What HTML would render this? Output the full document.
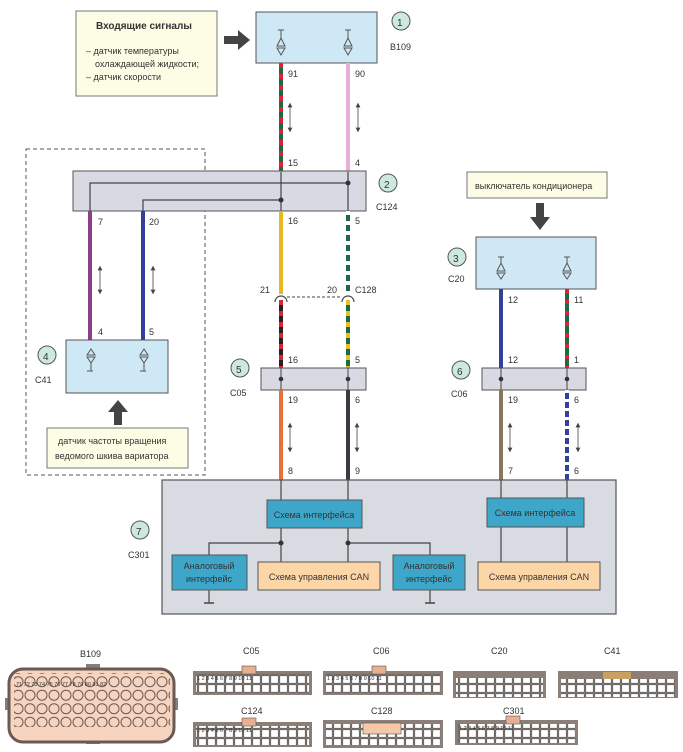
<!DOCTYPE html>
<html><head><meta charset="utf-8"><style>
body{margin:0;background:#fff;}
svg{display:block;font-family:"Liberation Sans",sans-serif;}
.t{font-size:10px;fill:#333;}
.s{font-size:9px;fill:#333;}
.p{font-size:5.5px;fill:#333;}
</style></head><body>
<svg width="683" height="752" viewBox="0 0 683 752" xmlns="http://www.w3.org/2000/svg">
<defs>
<pattern id="cell" width="9" height="9" patternUnits="userSpaceOnUse"><rect x="0.8" y="0.8" width="7.4" height="7.4" fill="#fff" stroke="#555" stroke-width="0.6"/></pattern>
<pattern id="bub" width="12" height="13.5" patternUnits="userSpaceOnUse"><circle cx="6" cy="6.7" r="5" fill="#f7d4c0" stroke="#6a5a55" stroke-width="1"/></pattern>
<marker id="ah" markerWidth="6" markerHeight="6" refX="3" refY="3" orient="auto-start-reverse"><path d="M0,0 L6,3 L0,6 z" fill="#444"/></marker>
</defs>
<rect width="683" height="752" fill="#fff"/>

<rect x="76" y="11" width="141" height="85" fill="#fdfde6" stroke="#777" stroke-width="1"/>
<text x="96" y="29" class="t" font-weight="bold" fill="#555">Входящие сигналы</text>
<text x="86" y="54" class="s">– датчик температуры</text>
<text x="95" y="67" class="s">охлаждающей жидкости;</text>
<text x="86" y="80" class="s">– датчик скорости</text>
<path d="M224,36 L238,36 L238,30 L250,40 L238,50 L238,44 L224,44 z" fill="#444"/>

<rect x="256" y="12" width="121" height="51" fill="#cfe8f6" stroke="#555" stroke-width="1"/>
<g stroke="#555" fill="none" stroke-width="1">
<path d="M278,30h6M281,30v8M277,46l4,-8 4,8zM277,48h8l-4,7z"/>
<path d="M345,30h6M348,30v8M344,46l4,-8 4,8zM344,48h8l-4,7z"/>
</g>
<circle cx="401" cy="21" r="9" fill="#cde8dc" stroke="#555"/><text x="397" y="26" class="t" font-size="12">1</text>
<text x="390" y="50" class="s">B109</text>

<line x1="281" y1="63" x2="281" y2="172" stroke="#1a6a4a" stroke-width="4"/>
<line x1="281" y1="63" x2="281" y2="172" stroke="#d23" stroke-width="4" stroke-dasharray="5,6"/>
<line x1="348" y1="63" x2="348" y2="172" stroke="#e8b0d8" stroke-width="4"/>
<text x="288" y="77" class="s">91</text><text x="355" y="77" class="s">90</text>
<text x="288" y="166" class="s">15</text><text x="355" y="166" class="s">4</text>
<line x1="290" y1="105" x2="290" y2="130" stroke="#444" marker-end="url(#ah)" marker-start="url(#ah)" stroke-width="0.8"/>
<line x1="358" y1="105" x2="358" y2="130" stroke="#444" marker-end="url(#ah)" marker-start="url(#ah)" stroke-width="0.8"/>

<rect x="26" y="149" width="179" height="326" fill="none" stroke="#555" stroke-dasharray="4,3"/>

<rect x="73" y="171" width="293" height="40" fill="#d8d9e2" stroke="#555"/>
<path d="M90,211V183H348M143,211V200H281M281,172V211M348,172V211" stroke="#444" fill="none" stroke-width="1.2"/>
<circle cx="348" cy="183" r="2.5" fill="#333"/><circle cx="281" cy="200" r="2.5" fill="#333"/>
<circle cx="388" cy="183" r="9" fill="#cde8dc" stroke="#555"/><text x="384" y="188" class="t" font-size="12">2</text>
<text x="376" y="210" class="s">C124</text>

<line x1="90" y1="211" x2="90" y2="340" stroke="#8a3f88" stroke-width="4"/>
<line x1="143" y1="211" x2="143" y2="340" stroke="#33409a" stroke-width="4"/>
<text x="98" y="225" class="s">7</text><text x="149" y="225" class="s">20</text>
<text x="98" y="335" class="s">4</text><text x="149" y="335" class="s">5</text>
<line x1="100" y1="268" x2="100" y2="292" stroke="#444" marker-end="url(#ah)" marker-start="url(#ah)" stroke-width="0.8"/>
<line x1="153" y1="268" x2="153" y2="292" stroke="#444" marker-end="url(#ah)" marker-start="url(#ah)" stroke-width="0.8"/>

<rect x="66" y="340" width="102" height="53" fill="#cfe8f6" stroke="#555"/>
<g stroke="#555" fill="none">
<path d="M87,355l4,-6 4,6zM87,357h8l-4,6zM91,363v8M87,371h6"/>
<path d="M140,355l4,-6 4,6zM140,357h8l-4,6zM144,363v8M140,371h6"/>
</g>
<circle cx="47" cy="355" r="9" fill="#cde8dc" stroke="#555"/><text x="43" y="360" class="t" font-size="12">4</text>
<text x="35" y="383" class="s">C41</text>
<path d="M114,425 L114,412 L108,412 L118,400 L128,412 L122,412 L122,425 z" fill="#444"/>
<rect x="47" y="428" width="141" height="40" fill="#fdfde6" stroke="#777"/>
<text x="58" y="444" class="s">датчик частоты вращения</text>
<text x="55" y="459" class="s">ведомого шкива вариатора</text>

<line x1="281" y1="211" x2="281" y2="294" stroke="#e8b820" stroke-width="4"/>
<line x1="348" y1="211" x2="348" y2="294" stroke="#1a6a4a" stroke-width="4"/>
<line x1="348" y1="211" x2="348" y2="294" stroke="#fff" stroke-width="4" stroke-dasharray="4,6"/>
<text x="288" y="224" class="s">16</text><text x="355" y="224" class="s">5</text>
<text x="260" y="293" class="s">21</text><text x="327" y="293" class="s">20</text><text x="355" y="293" class="s">C128</text>
<path d="M275,302a6,6 0 0 1 12,0M342,302a6,6 0 0 1 12,0" fill="none" stroke="#444" stroke-width="1.2"/>
<line x1="287" y1="297" x2="342" y2="297" stroke="#444" stroke-dasharray="3,2"/>
<line x1="281" y1="300" x2="281" y2="368" stroke="#222" stroke-width="4"/>
<line x1="281" y1="300" x2="281" y2="368" stroke="#d23" stroke-width="4" stroke-dasharray="5,6"/>
<line x1="348" y1="300" x2="348" y2="368" stroke="#1a6a4a" stroke-width="4"/>
<line x1="348" y1="300" x2="348" y2="368" stroke="#e8c020" stroke-width="4" stroke-dasharray="5,6"/>
<text x="288" y="363" class="s">16</text><text x="355" y="363" class="s">5</text>

<rect x="261" y="368" width="105" height="22" fill="#d8d9e2" stroke="#555"/>
<line x1="281" y1="368" x2="281" y2="390" stroke="#444"/><line x1="348" y1="368" x2="348" y2="390" stroke="#444"/>
<circle cx="281" cy="379" r="2.3" fill="#333"/><circle cx="348" cy="379" r="2.3" fill="#333"/>
<circle cx="240" cy="368" r="9" fill="#cde8dc" stroke="#555"/><text x="236" y="373" class="t" font-size="12">5</text>
<text x="230" y="396" class="s">C05</text>
<line x1="281" y1="390" x2="281" y2="480" stroke="#e8703a" stroke-width="4"/>
<line x1="348" y1="390" x2="348" y2="480" stroke="#3a3a40" stroke-width="4"/>
<text x="288" y="403" class="s">19</text><text x="355" y="403" class="s">6</text>
<text x="288" y="474" class="s">8</text><text x="355" y="474" class="s">9</text>
<line x1="290" y1="425" x2="290" y2="450" stroke="#444" marker-end="url(#ah)" marker-start="url(#ah)" stroke-width="0.8"/>
<line x1="357" y1="425" x2="357" y2="450" stroke="#444" marker-end="url(#ah)" marker-start="url(#ah)" stroke-width="0.8"/>

<rect x="467" y="172" width="140" height="26" fill="#fdfde6" stroke="#777"/>
<text x="475" y="189" class="s">выключатель кондиционера</text>
<path d="M536,203 L544,203 L544,217 L550,217 L540,230 L530,217 L536,217 z" fill="#444"/>
<rect x="476" y="237" width="120" height="52" fill="#cfe8f6" stroke="#555"/>
<g stroke="#555" fill="none">
<path d="M498,257h6M501,257v6M497,271l4,-8 4,8zM497,273h8l-4,6z"/>
<path d="M564,257h6M567,257v6M563,271l4,-8 4,8zM563,273h8l-4,6z"/>
</g>
<circle cx="457" cy="257" r="9" fill="#cde8dc" stroke="#555"/><text x="453" y="262" class="t" font-size="12">3</text>
<text x="448" y="282" class="s">C20</text>
<line x1="501" y1="289" x2="501" y2="368" stroke="#33409a" stroke-width="4"/>
<line x1="567" y1="289" x2="567" y2="368" stroke="#1a6a4a" stroke-width="4"/>
<line x1="567" y1="289" x2="567" y2="368" stroke="#d23" stroke-width="4" stroke-dasharray="4,7"/>
<text x="508" y="303" class="s">12</text><text x="574" y="303" class="s">11</text>
<text x="508" y="363" class="s">12</text><text x="574" y="363" class="s">1</text>
<rect x="482" y="368" width="104" height="22" fill="#d8d9e2" stroke="#555"/>
<line x1="501" y1="368" x2="501" y2="390" stroke="#444"/><line x1="567" y1="368" x2="567" y2="390" stroke="#444"/>
<circle cx="501" cy="379" r="2.3" fill="#333"/><circle cx="567" cy="379" r="2.3" fill="#333"/>
<circle cx="461" cy="370" r="9" fill="#cde8dc" stroke="#555"/><text x="457" y="375" class="t" font-size="12">6</text>
<text x="451" y="397" class="s">C06</text>
<line x1="501" y1="390" x2="501" y2="480" stroke="#8a7658" stroke-width="4"/>
<line x1="567" y1="390" x2="567" y2="480" stroke="#33409a" stroke-width="4"/>
<line x1="567" y1="390" x2="567" y2="480" stroke="#fff" stroke-width="4" stroke-dasharray="3,6"/>
<text x="508" y="403" class="s">19</text><text x="574" y="403" class="s">6</text>
<text x="508" y="474" class="s">7</text><text x="574" y="474" class="s">6</text>
<line x1="510" y1="425" x2="510" y2="450" stroke="#444" marker-end="url(#ah)" marker-start="url(#ah)" stroke-width="0.8"/>
<line x1="578" y1="425" x2="578" y2="450" stroke="#444" marker-end="url(#ah)" marker-start="url(#ah)" stroke-width="0.8"/>

<rect x="162" y="480" width="454" height="134" fill="#d9dbe3" stroke="#555" stroke-width="1.2"/>
<path d="M281,480V562M348,480V562M281,543H209V555M348,543H430V555M501,480V562M567,480V562M209,590V603M430,590V603" stroke="#444" fill="none" stroke-width="1.2"/>
<path d="M204,603h10M425,603h10" stroke="#444" stroke-width="1.5"/>
<circle cx="281" cy="543" r="2.5" fill="#333"/><circle cx="348" cy="543" r="2.5" fill="#333"/>
<rect x="267" y="500" width="95" height="28" fill="#3ea6c8" stroke="#555"/>
<text x="314" y="518" class="s" text-anchor="middle" fill="#234">Схема интерфейса</text>
<rect x="487" y="498" width="97" height="29" fill="#3ea6c8" stroke="#555"/>
<text x="535" y="516" class="s" text-anchor="middle" fill="#234">Схема интерфейса</text>
<rect x="172" y="555" width="75" height="35" fill="#3ea6c8" stroke="#555"/>
<text x="209" y="569" class="s" text-anchor="middle" fill="#234">Аналоговый</text><text x="209" y="582" class="s" text-anchor="middle" fill="#234">интерфейс</text>
<rect x="393" y="555" width="72" height="35" fill="#3ea6c8" stroke="#555"/>
<text x="429" y="569" class="s" text-anchor="middle" fill="#234">Аналоговый</text><text x="429" y="582" class="s" text-anchor="middle" fill="#234">интерфейс</text>
<rect x="258" y="562" width="122" height="28" fill="#fcd6a6" stroke="#555"/>
<text x="319" y="580" class="s" text-anchor="middle">Схема управления CAN</text>
<rect x="478" y="562" width="122" height="28" fill="#fcd6a6" stroke="#555"/>
<text x="539" y="580" class="s" text-anchor="middle">Схема управления CAN</text>
<circle cx="140" cy="530" r="9" fill="#cde8dc" stroke="#555"/><text x="136" y="535" class="t" font-size="12">7</text>
<text x="128" y="558" class="s">C301</text>

<text x="80" y="657" class="s">B109</text>
<rect x="86" y="664" width="14" height="6" fill="#8a7f78"/><rect x="86" y="738" width="14" height="6" fill="#8a7f78"/>
<rect x="5" y="698" width="6" height="12" fill="#8a7f78"/><rect x="172" y="698" width="6" height="12" fill="#8a7f78"/>
<rect x="9" y="669" width="165" height="73" rx="14" fill="#f7d4c0" stroke="#6a5a55" stroke-width="3"/>
<rect x="14" y="673" width="156" height="54" fill="url(#bub)"/>
<text x="16" y="686" class="p">71 72 73 74 75 76 77 78 79 80 81 82</text>

<g>
<text x="243" y="654" class="s">C05</text>
<rect x="193" y="671" width="119" height="24" fill="#8b7e76"/><rect x="196" y="674" width="113" height="19" fill="url(#cell)"/>
<rect x="242" y="666" width="14" height="8" fill="#e8b090" stroke="#555" stroke-width="0.6"/>
<text x="373" y="654" class="s">C06</text>
<rect x="323" y="671" width="120" height="24" fill="#8b7e76"/><rect x="326" y="674" width="114" height="19" fill="url(#cell)"/>
<rect x="372" y="666" width="14" height="8" fill="#e8b090" stroke="#555" stroke-width="0.6"/>
<text x="491" y="654" class="s">C20</text>
<rect x="453" y="671" width="93" height="27" fill="#8b7e76"/><rect x="456" y="678" width="87" height="19" fill="url(#cell)"/>
<text x="604" y="654" class="s">C41</text>
<rect x="558" y="671" width="120" height="27" fill="#8b7e76"/><rect x="561" y="679" width="114" height="18" fill="url(#cell)"/>
<rect x="603" y="672" width="28" height="7" fill="#c8a060"/>
<text x="241" y="714" class="s">C124</text>
<rect x="193" y="722" width="119" height="25" fill="#8b7e76"/><rect x="196" y="726" width="113" height="19" fill="url(#cell)"/>
<rect x="242" y="718" width="14" height="8" fill="#e8b090" stroke="#555" stroke-width="0.6"/>
<text x="371" y="714" class="s">C128</text>
<rect x="323" y="720" width="120" height="28" fill="#8b7e76"/><rect x="326" y="724" width="114" height="21" fill="url(#cell)"/>
<rect x="363" y="723" width="38" height="11" fill="#f7c8a8" stroke="#555" stroke-width="0.6"/>
<text x="503" y="714" class="s">C301</text>
<rect x="455" y="720" width="123" height="25" fill="#8b7e76"/><rect x="458" y="724" width="117" height="19" fill="url(#cell)"/>
<rect x="506" y="716" width="14" height="8" fill="#e8b090" stroke="#555" stroke-width="0.6"/>
</g>
<g class="p">
<text x="197" y="680" class="p">1 2 3 4 5    6 7 8 9 10 11</text>
<text x="327" y="680" class="p">1 2 3 4 5    6 7 8 9 10 11</text>
<text x="197" y="732" class="p">1 2 3 4 5    6 7 8 9 10 11</text>
<text x="459" y="730" class="p">1 2 3 4 5    6 7 8 9 10 11</text>
</g>
</svg>
</body></html>
